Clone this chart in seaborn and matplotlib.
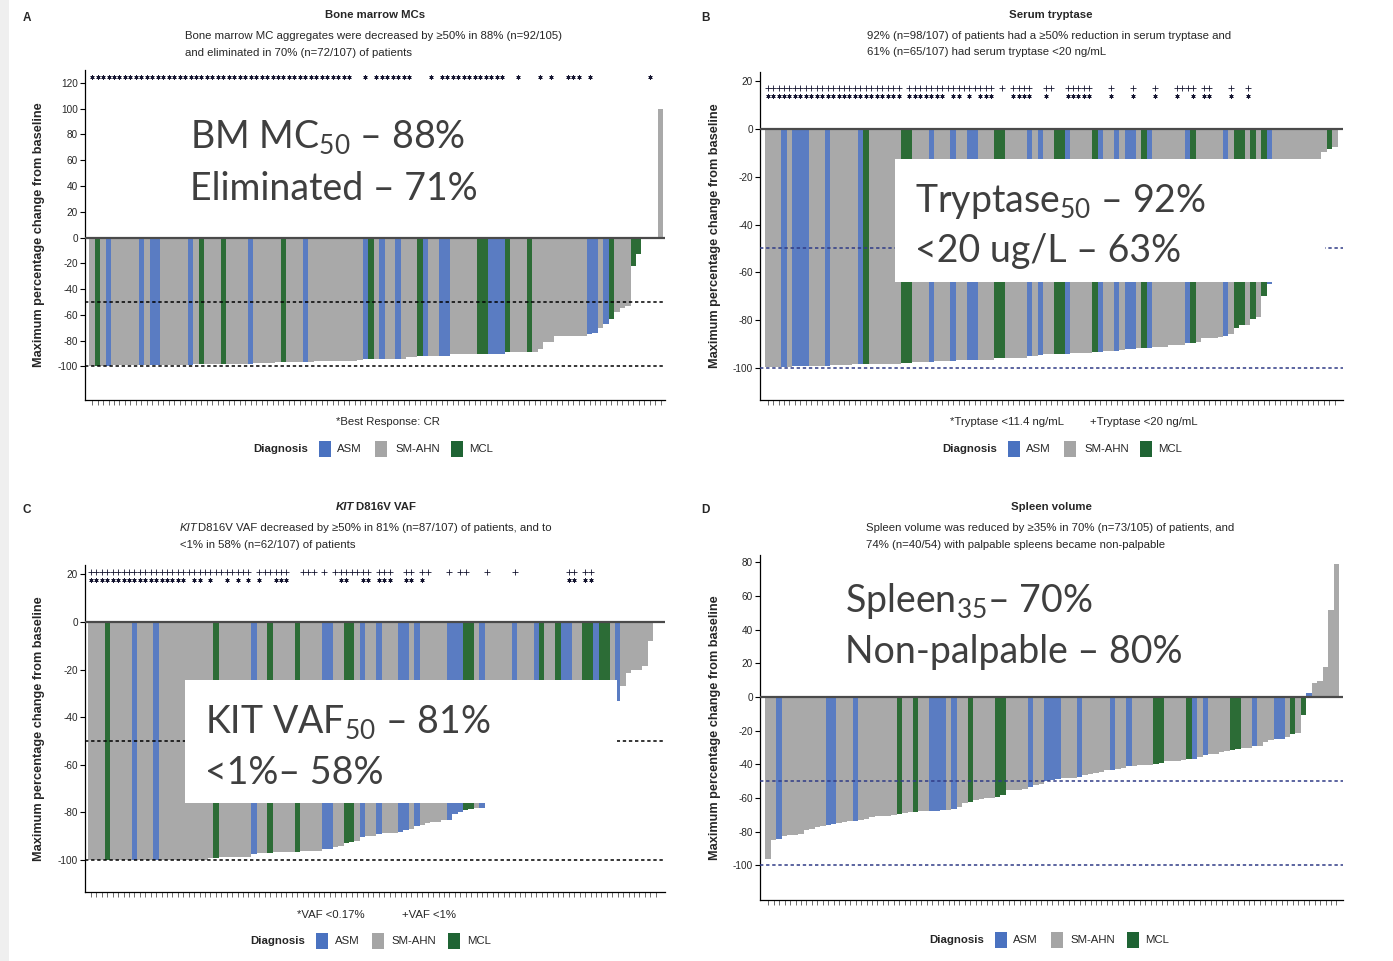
import matplotlib
matplotlib.use("Agg")
import matplotlib.pyplot as plt
import seaborn as sns
import pandas as pd
from matplotlib.patches import Rectangle
from matplotlib import font_manager as fm

W, H = 1393, 961

# ---------------- data ----------------
diag_names = ["ASM", "SM-AHN", "MCL"]
diag_code = {"A": "ASM", "S": "SM-AHN", "M": "MCL"}

# Panel A: bone marrow MC aggregates (per patient, sorted waterfall)
bm_diag = ("SMSASSSSSA" "SAASSSSSAS" "MSSSMSSSSA" "SSSSSMSSSA" "SSSSSSSSSS"
           "AMSASSASSS" "MASSAASSSS" "SMMAAAMSSS" "MSSSSSSSSS" "SAASAMSSSM" "MSSSS")
bm_change = [-100, -100, -100, -100, -99, -99, -99, -99, -99, -99, -99, -99, -99,
             -98.5, -98.5, -98.5, -98.5, -98.5, -98.5,
             -98, -98, -98, -98, -98, -98, -98, -98, -98, -98, -98,
             -97.5, -97.5, -97.5, -97.5,
             -96.5, -96.5, -96.5, -96.5, -96.5, -96.5, -96.5,
             -96, -96, -96, -96, -96, -96, -96, -96,
             -95, -94.5, -94.5, -94.5,
             -94, -94, -94, -94, -94,
             -93, -93,
             -92, -92, -92, -92, -92, -92,
             -90.5, -90.5, -90.5, -90.5, -90.5,
             -90, -90, -90, -90, -90,
             -89, -89, -89, -89,
             -88.5, -88.5, -86.5, -81, -81,
             -76, -76, -76, -76, -76, -76,
             -75, -74, -70.5, -67, -63, -58, -55, -53, -22, -13, 0, 0, 0, 100]
bm_cr = ("**********" "**********" "**********" "**********" "********  "
         "* ******* " "  * ******" "******  * " "  * *  ***" " *        " "  *  ")

# Panel B: serum tryptase
tr_diag = ("SSSASAAASS" "SASSSSSAMS" "SSSSSMMSSS" "ASSSASSAAS" "SSMMSSSSAS"
           "ASSMMASSSS" "MASSASAASM" "ASSSSSSAMS" "SSSSASMMSM" "SMASSSSSSS" "SSSMS")
tr_change = [-99.6, -99.6, -99.6, -99.6, -99.6, -99.3, -99.3, -99.3,
             -99, -99, -99, -99, -98.9, -98.9, -98.9, -98.9,
             -98.5, -98.5, -98.5, -98.2, -98.2, -98.2, -98.2, -98.2, -98.2,
             -97.9, -97.9, -97.6, -97.6, -97.6, -97.6,
             -97.2, -97.2, -97.2, -97.2, -96.8, -96.8, -96.8, -96.8,
             -96.5, -96.5, -96.5, -96, -96, -95.7, -95.7, -95.7, -95.7,
             -95, -95, -94.4, -94.3, -94.3, -94.3, -94.3, -94,
             -93.7, -93.7, -93.7, -93.7, -93.3, -93.3, -93, -93, -93,
             -92.6, -92, -92, -91.8, -91.8, -91.6, -91.2, -91.2, -91.2,
             -90.5, -90.5, -90.5, -89.5, -89.5, -89,
             -87.4, -87.4, -87.4, -87, -86.7, -86, -83.2, -82.2, -82, -79.7, -78.8,
             -70, -65, -60, -57, -54, -51, -46, -40, -33, -25, -18, -9.8, -8.4, -7.7]
tr_lt20 = ("++++++++++" "++++++++++" "+++++ ++++" "++++++++++" "++ + ++++ "
           " ++  +++++" "   +   +  " " +   ++++ " "++   +  + " "          " "     ")
tr_lt11 = ("**********" "**********" "***** ****" "*** ** * *" "**   **** "
           " *   *****" "   *   *  " " *   *  * " "**   *  * " "          " "     ")

# Panel C: KIT D816V VAF
vaf_diag = ("SSSMSSSSAS" "SSASSSSSSS" "SSSMSSSSSS" "ASSMSSSSMS" "SSSAASSMMS"
            "ASSASSSAAS" "ASSSSSAAAM" "MSASSSSSAS" "SSAMSSMAAS" "SMMAMMSASS" "SSSSS")
vaf_change = [-100, -100, -100, -100, -100, -100, -100, -100, -100, -100, -100,
              -100, -100, -100, -100, -100, -100, -100, -100, -100, -100, -100,
              -99.3, -99, -98.7, -98.7, -98.7, -98.7, -98.7, -98.7,
              -97.6, -97.2, -97.2, -96.9, -96.6, -96.6, -96.6, -96.6, -96.4,
              -96, -96, -96, -96, -95.5, -95.5,
              -94.5, -93.9, -93, -92.5, -92, -90.4, -89.7, -89.7, -89, -88.5,
              -88.5, -88.5, -88, -87.5, -86.9, -85.8, -85.3, -84.4, -84, -84,
              -83, -83, -80.6, -79.7, -79, -78.5, -78, -78,
              -75, -73, -72, -70, -68, -67, -65, -63, -61, -60, -58, -56,
              -54, -52, -51, -49, -47, -45, -43, -41, -39, -37, -36, -35,
              -33.4, -26.8, -21.5, -20, -20, -18.4, -8, 0.5]
vaf_lt1 = ("++++++++++" "++++++++++" "++++++++++" " ++++++  +" "++ + +++++"
           "++ +++  ++" " ++   + ++" "   +    + " "        ++" " ++       " "     ")
vaf_lt017 = ("**********" "******** *" "* *  * * *" " *  ***   " "      **  "
             "** ***  **" " *        " "          " "        **" " **       " "     ")

# Panel D: spleen volume
sp_diag = ("SSASSSSSSS" "SAASSSASSS" "SSSSMSSMSS" "AAASASSMSS" "SSMMSSSSAS"
           "SAAASSSASS" "SSSASSASSS" "SMMSSSSMAS" "ASSSSMMSSA" "SSSAASMSMA" "SSSSS")
sp_change = [-96.4, -85, -84.2, -82.6, -82.2, -81.8, -81.3, -78.7, -78.3, -77.4,
             -76.7, -75.7, -75.1, -75, -74.3, -73.8, -73.4, -72.8, -72.4, -71.4,
             -70.8, -70.6, -70.4, -70.2, -69.4, -68.8, -68.4, -68.4, -67.9, -67.8,
             -67.5, -67.5, -67.3, -66.9, -66.3, -65.3, -63, -62.5, -61.3, -60.4,
             -60, -59.8, -59.4, -58, -55.4, -55.2, -55, -54.6, -53.5, -52,
             -51.7, -50.1, -49.1, -48.5, -48.1, -47.9, -47.8, -47.7, -46.2, -45.5,
             -45.2, -44.8, -43.6, -43.2, -42.6, -42, -41.2, -41, -40.6, -40.4,
             -40.2, -39.8, -39.2, -37.9, -37.8, -37.7, -37.5, -36.9, -36.8, -35.7,
             -34.7, -34.1, -33.8, -32.7, -32.3, -31.4, -30.8, -30.4, -30, -29,
             -29, -27, -25.4, -25, -24.8, -23.9, -21.9, -21.1, -10.7, 2.2,
             8.1, 9.5, 18, 51.5, 79]

# ---------------- styling ----------------
PAL = {"ASM": "#5A7CC2", "SM-AHN": "#A9A9A9", "MCL": "#2C6C36"}
LEG = {"ASM": "#4A72C0", "SM-AHN": "#A5A5A5", "MCL": "#1F6434"}
NAVY = "#2F3B86"
BIG = ["Lato", "DejaVu Sans"]
ARIAL = ["Liberation Sans", "DejaVu Sans"]

_names = {f.name for f in fm.fontManager.ttflist}
if "Liberation Sans Narrow" in _names:
    TXT, K = ["Liberation Sans Narrow", "Liberation Sans", "DejaVu Sans"], 1.2
else:
    TXT, K = ARIAL, 1.0

sns.set_theme(style="ticks")
plt.rcParams["font.family"] = TXT
plt.rcParams["mathtext.fontset"] = "custom"
plt.rcParams["mathtext.rm"] = "Lato"
plt.rcParams["mathtext.it"] = "Lato:italic"
plt.rcParams["mathtext.bf"] = "Lato:bold"

fig = plt.figure(figsize=(W / 100, H / 100), dpi=100)
fig.patch.set_facecolor("white")
fig.add_artist(Rectangle((0, 0), 9 / W, 1, transform=fig.transFigure,
                         facecolor="#EFEFEF", edgecolor="none", zorder=0))


def fx(x):
    return x / W


def fy(y):
    return 1 - y / H


def panel(box, values, diag, ylim, xlim, yticks, refcolor, ylab_x):
    l, t, r, b = box
    ax = fig.add_axes([l / W, 1 - b / H, (r - l) / W, (b - t) / H])
    n = len(values)
    df = pd.DataFrame({"patient": list(range(n)), "change": values,
                       "Diagnosis": [diag_code[c] for c in diag[:n]]})
    sns.barplot(data=df, x="patient", y="change", hue="Diagnosis",
                hue_order=diag_names, palette=PAL, dodge=False, width=1.0,
                saturation=1, linewidth=0, errorbar=None, legend=False, ax=ax)
    ax.set_xlim(*xlim)
    ax.set_ylim(*ylim)
    ax.set_yticks(yticks)
    ax.set_yticklabels([str(v) for v in yticks], fontsize=7.2 * K)
    ax.set_xticks(range(n))
    ax.set_xticklabels([])
    ax.tick_params(axis="x", length=3.5, width=0.5, color="#333333")
    ax.tick_params(axis="y", length=3.5, width=0.8, color="black", pad=1.5)
    ax.set_xlabel("")
    ax.set_ylabel("Maximum percentage change from baseline", fontsize=9.2,
                  fontweight="bold", family=ARIAL)
    ax.yaxis.set_label_coords((ylab_x - l) / (r - l), 0.5)
    sns.despine(ax=ax)
    for s in ("left", "bottom"):
        ax.spines[s].set_color("black")
        ax.spines[s].set_linewidth(0.9)
    ax.axhline(0, color="#4A4A4A", lw=1.6, zorder=4)
    for v in (-50, -100):
        ax.axhline(v, color=refcolor, lw=1.1, ls=(0, (2.2, 1.8)), zorder=4)
    ax.set_facecolor("white")
    return ax


def flags(ax, flagstr, ch, yv, n, marker, ms, color="#151530"):
    s = flagstr.ljust(n)[:n]
    xs = [i for i, c in enumerate(s) if c == ch]
    ax.plot(xs, [yv] * len(xs), ls="none", marker=marker, ms=ms, mew=0.6,
            color=color, zorder=5, clip_on=False)


# Panel A
axA = panel((85, 70, 665, 400), bm_change, bm_diag, (-126, 130), (-1.3, 104.8),
            list(range(-100, 121, 20)), "black", 45)
flags(axA, bm_cr, "*", 124.6, len(bm_change), (6, 2, 0), 3.0)

# Panel B
axB = panel((760, 72, 1343, 400), tr_change, tr_diag, (-113.4, 23.8), (-1.4, 105.5),
            list(range(-100, 21, 20)), NAVY, 721)
flags(axB, tr_lt20, "+", 17.2, len(tr_change), "+", 4.6)
flags(axB, tr_lt11, "*", 13.6, len(tr_change), (6, 2, 0), 3.0)

# Panel C
axC = panel((85, 565, 665, 892), vaf_change, vaf_diag, (-113.4, 23.9), (-1.1, 105.7),
            list(range(-100, 21, 20)), "black", 45)
flags(axC, vaf_lt1, "+", 21.0, len(vaf_change), "+", 4.6)
flags(axC, vaf_lt017, "*", 17.5, len(vaf_change), (6, 2, 0), 3.0)

# Panel D
axD = panel((760, 555, 1343, 900), sp_change, sp_diag, (-120.5, 84.3), (-1.5, 105.2),
            list(range(-100, 81, 20)), NAVY, 721)

# ---------------- texts ----------------
def t(x, y, s, **kw):
    kw.setdefault("fontsize", 8.2 * K)
    kw.setdefault("va", "center")
    fig.text(fx(x), fy(y), s, **kw)


# panel letters
for (x, y, s) in [(27, 18, "A"), (705, 18, "B"), (27, 510, "C"), (705, 510, "D")]:
    t(x, y, s, fontweight="bold", ha="center", family=ARIAL, fontsize=8.5)

# titles and subtitles
t(375, 15, "Bone marrow MCs", fontweight="bold", ha="center")
t(185, 36, "Bone marrow MC aggregates were decreased by \u226550% in 88% (n=92/105)")
t(185, 53, "and eliminated in 70% (n=72/107) of patients")

t(1051, 15, "Serum tryptase", fontweight="bold", ha="center")
t(867, 36, "92% (n=98/107) of patients had a \u226550% reduction in serum tryptase and")
t(867, 52, "61% (n=65/107) had serum tryptase <20 ng/mL")

t(354, 507, "KIT", fontweight="bold", style="italic", ha="right")
t(356, 507, "D816V VAF", fontweight="bold", ha="left")
t(180, 528, "KIT", style="italic", ha="left")
t(198, 528, "D816V VAF decreased by \u226550% in 81% (n=87/107) of patients, and to")
t(180, 545, "<1% in 58% (n=62/107) of patients")

t(1051, 507, "Spleen volume", fontweight="bold", ha="center")
t(866, 528, "Spleen volume was reduced by \u226535% in 70% (n=73/105) of patients, and")
t(866, 545, "74% (n=40/54) with palpable spleens became non-palpable")

# footnotes
t(388, 422, "*Best Response: CR", ha="center")
t(950, 422, "*Tryptase <11.4 ng/mL", ha="left")
t(1090, 422, "+Tryptase <20 ng/mL", ha="left")
t(297, 915, "*VAF <0.17%", ha="left")
t(402, 915, "+VAF <1%", ha="left")


# legends
def legend(x0, y, sq, lab):
    t(x0, y, "Diagnosis", fontweight="bold", ha="left")
    for name, sx, lx in zip(diag_names, sq, lab):
        fig.add_artist(Rectangle((fx(sx), fy(y + 8)), 12 / W, 16 / H,
                                 transform=fig.transFigure, facecolor=LEG[name],
                                 edgecolor="none", zorder=3))
        t(lx, y, name, ha="left")


legend(253, 449, (319, 375, 451), (337, 395, 469))
legend(942, 449, (1008, 1064, 1140), (1026, 1084, 1158))
legend(250, 941, (316, 372, 448), (335, 391, 467))
legend(929, 940, (995, 1051, 1127), (1013, 1070, 1145))

# white call-out boxes with summary text
for (x0, y0, x1, y1) in [(895, 159, 1325, 282), (185, 680, 617, 803)]:
    fig.add_artist(Rectangle((fx(x0), fy(y1)), (x1 - x0) / W, (y1 - y0) / H,
                             transform=fig.transFigure, facecolor="white",
                             edgecolor="none", zorder=8))

BIGKW = dict(fontsize=27, family=BIG, color="#3F3F3F", va="baseline", ha="left",
             zorder=9)
fig.text(fx(190), fy(148), r"BM MC$_{\mathrm{50}}$" + " \u2013 88%", **BIGKW)
fig.text(fx(190), fy(200), "Eliminated \u2013 71%", **BIGKW)
fig.text(fx(915), fy(212), r"Tryptase$_{\mathrm{50}}$" + " \u2013 92%", **BIGKW)
fig.text(fx(915), fy(262), "<20 ug/L \u2013 63%", **BIGKW)
fig.text(fx(205), fy(733), r"KIT VAF$_{\mathrm{50}}$" + " \u2013 81%", **BIGKW)
fig.text(fx(205), fy(784), "<1%\u2013 58%", **BIGKW)
fig.text(fx(845), fy(612), r"Spleen$_{\mathrm{35}}$" + "\u2013 70%", **BIGKW)
fig.text(fx(845), fy(663), "Non-palpable \u2013 80%", **BIGKW)

fig.savefig("out.png", dpi=100, facecolor="white")
